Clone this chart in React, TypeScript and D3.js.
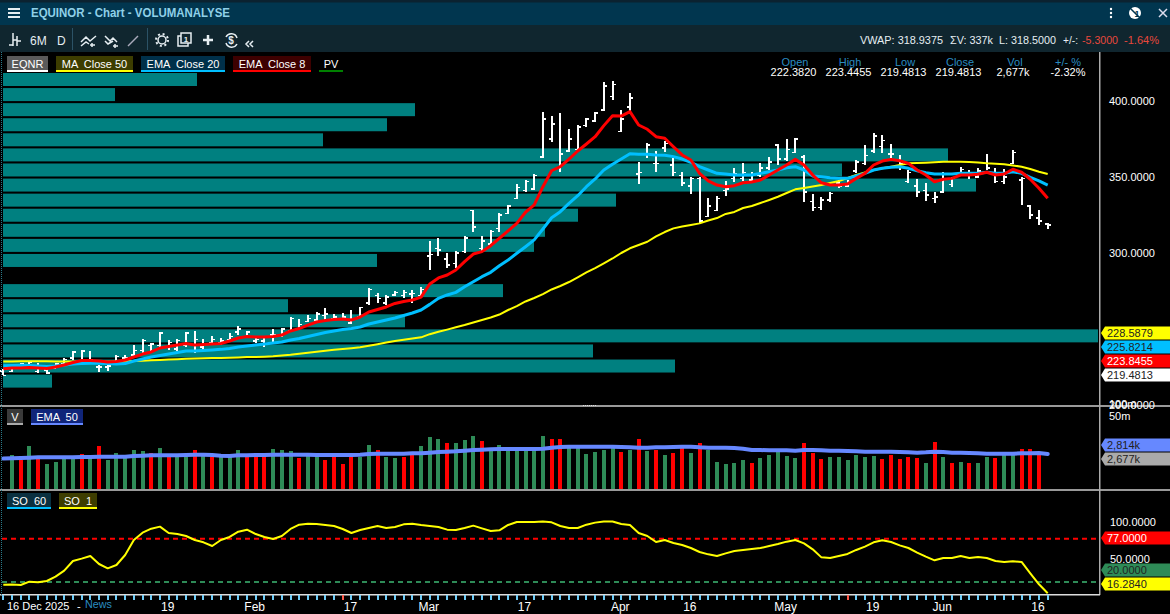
import React from "react";
import * as d3 from "d3";

const FONT = "'Liberation Sans', Arial, sans-serif";

const highs = [223.4,224.3,227.6,228.9,227.6,224.3,227.6,230.9,235.5,236.2,235.5,226.3,226.3,232.9,232.9,239.5,243.4,240.8,248,242.8,243.4,248,248.7,243.4,245.4,244.1,247.4,252,248.7,244.1,245.4,250,250.7,257.9,256.6,259.2,261.2,263.8,259.9,260.5,262.5,264.5,277,273.7,272.4,275,275.7,275.7,277.6,307.9,309.9,300,301.3,311.2,328.3,311.2,315.1,326.3,331.6,345.4,348,352,392.8,390.1,392.1,381.6,384.2,388.8,392.8,412.5,413.2,394.1,405.3,359.9,372.4,367.1,373.7,362.5,353.3,350,350,336.2,337.5,347.4,355.9,359.2,353.3,359.2,363.2,371.7,375,375.7,364.5,338.8,336.8,340.1,348,348,361.2,371.1,378.9,377.6,371.7,364.5,354.6,348.7,346.1,340.1,353.3,350,356.6,354.6,355.9,365.1,355.9,355.3,367.8,350,331.6,328.3,319.7];
const lows = [219.5,221.7,225,225.6,221,220.4,224.3,226.3,229.6,227.6,228.3,221.7,222.4,227.6,228.3,231.6,234.2,234.9,238.2,236.2,235.5,238.2,234.2,236.2,239.5,239.5,241.4,246,244.1,240.8,238.2,240.8,244.7,248,249.3,254.6,254.6,255.9,255.9,255.9,253.3,257.2,265.8,267.1,265.8,271.7,270.4,267.1,271,288.8,298,290.1,290.1,300,313.8,301.3,304.6,313.8,325.7,335.5,340.1,341.4,362.5,373,353.3,366.4,367.1,382.9,386.2,393.4,400.7,379.6,392.8,345.4,362.5,353.3,366.4,350.7,344.1,338.8,319.7,323.7,327.6,337.5,346.7,347.4,346.1,350,354.6,357.9,360.5,365.8,333.6,327.6,328.3,333.6,342.8,343.4,352.6,357.9,365.8,365.8,362.5,354.6,346.1,336.8,334.2,332.9,339.5,343.4,351.3,348.7,349.3,354.6,346.1,345.4,358.6,331.6,322.4,318.4,315.8];
const opens = [222.4,222,225.5,226,222,223,224.5,227,231,229,229,225,225,228,231,233,236,239,239,238,237,239,236,238,241,241,243,248,245,242,242,246,246,249,250,255,256,259,257,256.5,254,258,267,272,267,272.5,272,273,272,298,303,296,293,301,328,303,306,316,326,336,341,342,363,375,356,367,368,384,387,394,403,380,396,352,365,359,369,358,351,344,349,324,328,341,349,349,348,351,356,371,362,366,363,334,330,335,346,344,354,359,367,370,365,357,347,344,341,336,340,345,352,351,350,359,353,347,359,348,331,323,319];
const closes = [219.5,224,227,228,226,221,227,230,235,235.5,230,225,225.5,232,231,236,242.5,240,247.5,241,242.5,247.5,243,240,243,242,245,250,248,243,240,246,250,257,253,257,260,260,258,258,257,264,276,270,271,274,274,273.5,276,299,302,292,300,310,317,308,314,325,331,343,347,351,388,385,365,375,383,388,392,410,411,388,402,353,371,359,372,353,346,349,321,331,336,342,352,353,351,356,360,362,368,375,340,330,335,339,344,347,360,364,377,374,365,359,353,340,338,337,352,349,355,353,354,356,347,350,366,349,325,321,318.5];

const ema8 = [223.8,224.3,224.3,224.7,224.3,224,225,226.3,228,229.3,229.3,228.9,228.3,228.6,229.6,231.6,233.5,234.9,237.5,238.5,239.5,240.5,239.5,239.8,240.1,240.5,242.1,244.1,245.1,244.7,244.7,245.1,246,248.7,250.3,252.6,254.6,255.6,256.2,256.6,255.9,257.9,261.2,262.8,264.5,266.8,268.1,269.1,271,279.6,283.6,285.5,288.8,294.3,299.3,300.9,304.8,309.7,314.5,319.5,326.8,331.6,343.6,354.1,356.8,361.8,367.1,371.7,376.5,383.8,390.3,390.1,393,384.2,381.4,376.5,375.5,369.9,364.5,361.2,352.4,347.4,344.7,343.6,344.3,346.2,346.7,348,351.3,354.6,357.9,361.6,357.9,351.3,346.2,344.7,344.7,345.4,349.1,352.4,357.9,360.5,361.6,360.7,359,354.6,351.3,346.9,348.5,349.1,351.3,351.3,351.8,353.1,351.3,352,355.1,353.1,348.5,342.6,336];
const ema20 = [225.8,226,226.1,226,225.7,225.3,225.7,226.3,227,227.3,227.4,227.4,227.3,227,227.3,228.9,230.3,231.6,232.6,233.5,234.5,235.5,235.5,235.8,236.2,236.6,237.2,238.2,238.8,239.5,240.1,240.8,241.4,242.8,243.7,245.1,246.4,247.7,248.7,249.7,250.3,251.3,253.3,254.6,255.9,257.2,258.9,260.5,262.5,266.2,270.2,272.4,274.1,277.8,281.1,284.4,287.3,291.6,295.4,299.8,304.1,308.6,315.8,323.2,327.2,332.7,337.7,343.6,348.7,354.6,358.4,361.8,365.3,364.9,364.9,364.5,364.3,363.4,361.8,359.7,356.8,354.6,352.4,352,351.3,351.3,351.3,352.4,353.5,354.6,356.1,356.8,354.6,350.7,350.2,349.5,349.1,349.1,350.7,352.4,354.6,355.7,356.4,356.8,355.7,354.1,352.8,352,352,352,352.4,352.4,352.4,353.1,352.4,352.4,353.5,352.4,349.8,347.4,344.7];
const ma50 = [228.6,228.7,228.8,228.8,228.8,228.8,228.7,228.7,228.6,228.5,228.5,228.5,228.5,228.6,228.7,228.9,229.1,229.4,229.6,229.9,230.1,230.4,230.6,230.7,230.9,231,231.1,231.3,231.5,231.6,231.8,232,232.5,233,233.7,234.4,235,235.7,236.3,236.9,237.4,238,239,240,241.1,242.1,242.9,243.7,244.5,246.6,248.2,249.6,251.1,252.6,254.3,255.9,257.6,259.5,262.5,265.1,268.1,270.4,273,276,278.3,280.9,284,287.2,290.1,293.2,296.4,300,303.1,305.3,307.4,310.9,313.8,316.2,317.4,318.4,319.5,321.4,323,325.7,327,329.6,330.9,332.9,334.9,337,339.5,341.9,342.8,343.7,344.7,346.1,347.4,349.3,351.3,353,354.6,355.7,356.8,357.9,359,359.2,359.4,359.7,360.1,360.1,360,359.9,359.6,359,358.7,358.4,357.6,356.8,355.3,353.5,352];

const volumes = [0,2730,2340,3432,2470,2028,2184,2470,2470,2808,2730,3432,2340,2886,2600,3120,3042,2886,3276,2600,2600,2600,3120,2730,2600,2600,2600,3120,2600,2600,2730,3198,3120,3042,2496,2652,2652,2340,2574,2028,2600,2600,3510,3120,2574,2496,2574,2730,3432,4134,3978,3666,3666,3900,4212,3822,3120,3510,3120,3120,3120,3120,4212,3978,3978,3250,3250,2808,2964,3120,3250,2964,3120,3978,3042,3120,2730,2886,3250,2886,3666,3120,2184,2028,2106,2340,2106,2496,2730,2990,2652,2496,3666,2886,2418,2574,2574,2340,2730,2574,2652,2418,2730,2418,2574,2496,2106,3744,2574,2106,2184,2106,2106,2574,2496,2730,2730,3198,3198,2730,60];
const volumeSides = "GGRGRGGGGRGRGGGGGRGRGGRGRGGGRRRGGGRGGRRRRGGRGGRRGGGRGGGRGGGGGGGRRGGGGGGRGRGRGRRGRGGGGGRGGGGGRRRGGGGGGRRRRRGRGRGRGGRGGRRRR".split("");
const volumeEma = [2450,2470,2496,2522,2548,2548,2548,2548,2548,2574,2574,2600,2600,2600,2600,2652,2678,2704,2704,2704,2704,2730,2756,2756,2730,2678,2652,2704,2704,2730,2730,2756,2756,2756,2756,2756,2730,2730,2730,2730,2730,2756,2808,2834,2834,2834,2834,2860,2860,2912,2964,2990,3016,3068,3120,3146,3172,3198,3198,3198,3198,3198,3224,3302,3354,3380,3380,3380,3380,3380,3380,3354,3328,3302,3302,3328,3328,3354,3380,3380,3328,3302,3302,3302,3276,3224,3120,3120,3094,3094,3094,3068,3120,3120,3094,3068,3068,3042,3016,2990,2990,2990,2990,2964,2938,2912,2938,2990,2964,2912,2912,2886,2860,2834,2834,2834,2834,2860,2860,2886,2814];

const so1 = [16.3,16.5,15.9,20.3,19.4,21.2,26.9,34.9,47.7,50.8,54.3,43.7,38,42.4,55.6,75.5,85.2,90.5,93.2,84.8,83.4,80.8,75.5,72.4,67.5,75.5,79.5,86.5,89.2,83.4,79.5,76.8,80.8,90.1,95.8,97.1,96.7,95.4,94,90.1,84.8,88.7,91.4,94,91.4,92.7,96.2,97.1,95.4,94,92.7,89.2,88.7,91.4,94.5,90.9,87.4,88.3,95.4,99.3,99.3,99.3,100,98.9,94,91.4,91.4,95.8,98.5,100,100,96.7,95.4,84.8,80.8,72.8,75.5,71.5,68.9,64.9,59.6,56.5,54.3,57.8,60.9,62.3,63.6,64.9,67.5,70.2,73.3,75.5,71.1,63.1,52.5,51.7,54.3,57,62.3,66.7,72.4,75.1,72.8,68.4,64.9,58.7,53.4,48.6,51.7,51.7,54.3,51.7,53,51.7,47.7,46.4,47.2,46.4,31.3,16.8,4.9];

const profileVolumes = [194,112,412,384,320,945,839,973,613,575,542,531,374,0,500,285,402,1095,590,672,49];

const priceTicks = [400, 350, 300, 200];
const soTicks = [100, 50];
const soLevels = [{ value: 77, color: "#ff0000" }, { value: 20, color: "#2e8b57" }];
const redTickBars = [39, 97];
const dateLabels = [
  { bar: 19, text: "19" }, { bar: 29, text: "Feb" }, { bar: 40, text: "17" }, { bar: 49, text: "Mar" },
  { bar: 60, text: "17" }, { bar: 71, text: "Apr" }, { bar: 79, text: "16" }, { bar: 90, text: "May" },
  { bar: 100, text: "19" }, { bar: 108, text: "Jun" }, { bar: 119, text: "16" },
];
const ohlcHeads = ["Open", "High", "Low", "Close", "Vol", "+/- %"];
const ohlcValues = ["222.3820", "223.4455", "219.4813", "219.4813", "2,677k", "-2.32%"];
const headX = [795, 850, 905, 960, 1015, 1068];
const valueX = [793.5, 848.5, 903.5, 958.5, 1013, 1068];
const priceTags = [
  { text: "228.5879", bg: "#ffff00", fg: "#222" },
  { text: "225.8214", bg: "#00bfff", fg: "#222" },
  { text: "223.8455", bg: "#ff0000", fg: "#fff" },
  { text: "219.4813", bg: "#ffffff", fg: "#222" },
];
const toolbarStats = [
  { text: "VWAP: 318.9375", x: 860, w: 83, c: "#e6eef2" },
  { text: "ΣV: 337k", x: 950, w: 43, c: "#e6eef2" },
  { text: "L: 318.5000", x: 999, w: 57, c: "#e6eef2" },
  { text: "+/-:", x: 1063, w: 15, c: "#e6eef2" },
  { text: "-5.3000", x: 1082, w: 36, c: "#e8483c" },
  { text: "-1.64%", x: 1124, w: 35, c: "#e8483c" },
];

const barCount = highs.length;
const xBar = d3.scaleLinear().domain([0, 120]).range([3.3, 1047.7]);
const yPrice = d3.scaleLinear().domain([200, 400]).range([405, 101]);
const yVol = d3.scaleLinear().domain([0, 1000]).range([490, 477.18]);
const ySo = d3.scaleLinear().domain([0, 100]).range([597, 521.5]);
const xProfile = d3.scaleLinear().domain([0, 1095]).range([3, 1098]);
const yProfile = d3.scaleLinear().domain([0, 20]).range([73, 374.6]);

const lineOf = (vals: number[], y: (v: number) => number) =>
  d3.line<number>().x((_, i) => xBar(i)).y((v) => y(v)).curve(d3.curveLinear)(vals) || "";

function Tag({ y, text, bg, fg }: { y: number; text: string; bg: string; fg: string }) {
  const pts = [[1101, y], [1105, y - 6.5], [1170, y - 6.5], [1170, y + 6.5], [1105, y + 6.5]].map((p) => p.join(",")).join(" ");
  return (
    <g>
      <polygon points={pts} fill={bg} />
      <text x={1107} y={y + 4} fontSize={11} fill={fg}>{text}</text>
    </g>
  );
}

function Chip({ x, w, y, label, bg, line }: { x: number; w: number; y: number; label: string; bg: string; line: string }) {
  return (
    <g>
      <rect x={x} y={y} width={w} height={14} fill={bg} />
      <rect x={x} y={y + 14} width={w} height={2} fill={line} />
      <text x={x + w / 2} y={y + 12} fontSize={11} fill="#fff" textAnchor="middle" xmlSpace="preserve">{label}</text>
    </g>
  );
}

export default function App() {
  return (
    <svg width={1170} height={614} viewBox="0 0 1170 614"
      style={{ position: "fixed", left: 0, top: 0, background: "#000", fontFamily: FONT, display: "block" }}>
      {/* title bar and toolbar */}
      <rect x={0} y={0} width={1170} height={26} fill="#01364f" />
      <rect x={0} y={25} width={1170} height={27} fill="#10262f" />
      <rect x={0} y={0} width={1170} height={2.5} fill="#0b2230" />
      <g fill="#e6eef2">
        <rect x={8} y={8} width={12} height={2} /><rect x={8} y={12} width={12} height={2} /><rect x={8} y={16} width={12} height={2} />
      </g>
      <text x={31} y={17} fontSize={12.5} fontWeight="bold" fill="#8fd0e8" textLength={199} lengthAdjust="spacingAndGlyphs">EQUINOR - Chart - VOLUMANALYSE</text>
      {/* title bar right icons */}
      <g fill="#fff">
        <circle cx={1111} cy={9} r={1.2} /><circle cx={1111} cy={13} r={1.2} /><circle cx={1111} cy={17} r={1.2} />
        <circle cx={1135} cy={13} r={6} />
      </g>
      <text x={1137} y={17} fontSize={9} fontWeight="bold" fill="#01364f" textAnchor="middle">1</text>
      <path d="M1129 7 L1141 19" stroke="#01364f" strokeWidth={1.5} />
      <path d="M1159 9 L1167 17 M1167 9 L1159 17" stroke="#dde" strokeWidth={1.5} />
      {/* toolbar icons */}
      <g stroke="#e6eef2" strokeWidth={1.5} fill="none">
        <path d="M13 33 V46 M13 45 H9 M17 36 V46 M17 40 H13 M17 41 H21" />
        <path d="M81 42 L86 37 L90 41 L96 36 M81 46 L86 42 L89 44 M92 43 V47 M90 45 H95" />
        <path d="M105 36 L110 41 L113 38 L117 42 M105 41 L108 44 L113 41 M115 44 V48 M113 46 H118" />
        <path d="M128 46 L138 36" stroke="#aab" />
        <circle cx={162} cy={40} r={4} />
        <circle cx={162} cy={40} r={6} strokeDasharray="2 2.7" strokeWidth={2} />
        <rect x={178} y={36} width={10} height={10} />
        <rect x={181} y={33} width={10} height={10} fill="#10262f" />
        <path d="M208 35 V45 M203 40 H213" strokeWidth={2.5} />
        <path d="M226 37 A6 6 0 0 1 237 38 M237 44 A6 6 0 0 1 226 43" />
        <path d="M249 41 L246 44 L249 47 M253 41 L250 44 L253 47" />
      </g>
      <text x={186} y={42} fontSize={8} fill="#e6eef2" fontWeight="bold" textAnchor="middle">1</text>
      <text x={231} y={44} fontSize={10} fill="#e6eef2" fontWeight="bold" textAnchor="middle">$</text>
      <rect x={72} y={28} width={1} height={22} fill="#2c5266" />
      <rect x={147} y={28} width={1} height={22} fill="#2c5266" />
      <text x={30} y={45} fontSize={12} fill="#e6eef2">6M</text>
      <text x={57} y={45} fontSize={12} fill="#e6eef2">D</text>
      {toolbarStats.map((s) => (
        <text key={s.text} x={s.x} y={44} fontSize={11} fill={s.c} textLength={s.w} lengthAdjust="spacingAndGlyphs">{s.text}</text>
      ))}

      {/* volume profile */}
      <g fill="#008080">
        {profileVolumes.map((v, i) => v > 0 && (
          <rect key={i} x={xProfile(0)} y={yProfile(i)} width={xProfile(v) - xProfile(0)} height={13} />
        ))}
      </g>

      {/* OHLC */}
      <g stroke="#fff" fill="none" shapeRendering="crispEdges">
        {highs.map((h, i) => {
          const x = Math.round(xBar(i));
          return (
            <g key={i}>
              <line x1={x} x2={x} y1={yPrice(h)} y2={yPrice(lows[i])} strokeWidth={2} />
              <line x1={x - 3} x2={x} y1={yPrice(opens[i])} y2={yPrice(opens[i])} strokeWidth={1.5} />
              <line x1={x} x2={x + 3} y1={yPrice(closes[i])} y2={yPrice(closes[i])} strokeWidth={1.5} />
            </g>
          );
        })}
      </g>
      <path d={lineOf(ma50, yPrice)} fill="none" stroke="#ffff00" strokeWidth={2} strokeLinejoin="round" />
      <path d={lineOf(ema20, yPrice)} fill="none" stroke="#00bfff" strokeWidth={3} strokeLinejoin="round" />
      <path d={lineOf(ema8, yPrice)} fill="none" stroke="#ff0000" strokeWidth={3} strokeLinejoin="round" />

      {/* legends */}
      <Chip x={7} w={41} y={56} label="EQNR" bg="#5a5a5a" line="#ffffff" />
      <Chip x={56} w={77} y={56} label="MA  Close 50" bg="#3d3d00" line="#ffff00" />
      <Chip x={141} w={84} y={56} label="EMA  Close 20" bg="#00304a" line="#00bfff" />
      <Chip x={233} w={78} y={56} label="EMA  Close 8" bg="#3d0000" line="#ff0000" />
      <Chip x={319} w={24} y={56} label="PV" bg="#000" line="#008000" />

      {/* OHLC read-out */}
      {ohlcHeads.map((t, i) => (
        <g key={t} textAnchor="middle" fontSize={11}>
          <text x={headX[i]} y={65.5} fill="#2a8cc0">{t}</text>
          <text x={valueX[i]} y={75.5} fill="#fff">{ohlcValues[i]}</text>
        </g>
      ))}

      {/* volume panel */}
      <g shapeRendering="crispEdges">
        {volumes.map((v, i) => (
          <rect key={i} x={Math.round(xBar(i)) - 2} y={yVol(v)} width={4} height={490 - yVol(v)}
            fill={volumeSides[i] === "G" ? "#2e8b57" : "#ff0000"} />
        ))}
      </g>
      <path d={lineOf(volumeEma, yVol)} fill="none" stroke="#6688ff" strokeWidth={4} strokeLinejoin="round" strokeLinecap="round" />
      <Chip x={7} w={16} y={409} label="V" bg="#3a3a3a" line="#aaaaaa" />
      <Chip x={31} w={52} y={409} label="EMA  50" bg="#10257a" line="#6688ff" />

      {/* stochastic panel */}
      {soLevels.map((l) => (
        <line key={l.value} x1={2} x2={1098} y1={ySo(l.value)} y2={ySo(l.value)} stroke={l.color} strokeWidth={2} strokeDasharray="5 4" />
      ))}
      <path d={lineOf(so1, ySo)} fill="none" stroke="#ffff00" strokeWidth={2} strokeLinejoin="round" />
      <Chip x={7} w={44} y={493} label="SO  60" bg="#0a3040" line="#00bfff" />
      <Chip x={59} w={38} y={493} label="SO  1" bg="#3d3d00" line="#ffff00" />

      {/* frame */}
      <rect x={0} y={405} width={1170} height={2} fill="#999" />
      <rect x={0} y={489} width={1170} height={2} fill="#999" />
      <line x1={583} x2={596} y1={405.5} y2={405.5} stroke="#ddd" strokeDasharray="1 1" />
      <rect x={1099} y={52} width={1.5} height={543} fill="#aaa" />
      <rect x={0} y={594} width={1100} height={1.5} fill="#ddd" />
      <line x1={1.5} x2={1.5} y1={52} y2={596} stroke="#2a7a8a" strokeWidth={1} strokeDasharray="1 1" />

      {/* date axis */}
      <g shapeRendering="crispEdges">
        {d3.range(barCount).map((i) => (
          <rect key={i} x={Math.round(xBar(i)) - 1} y={595} width={1.5} height={5}
            fill={redTickBars.includes(i) ? "#ff5a4a" : "#6fcdf8"} />
        ))}
      </g>
      <text x={7} y={610} fontSize={11} fill="#fff">16 Dec 2025</text>
      <text x={77} y={610} fontSize={11} fill="#fff">-</text>
      <text x={85} y={608} fontSize={11} fill="#2a8cc0" textLength={27} lengthAdjust="spacingAndGlyphs">News</text>
      {dateLabels.map((d) => (
        <text key={d.bar} x={xBar(d.bar) - 1} y={611} fontSize={12} fill="#fff" textAnchor="middle">{d.text}</text>
      ))}

      {/* right axis */}
      {priceTicks.map((p) => (
        <text key={p} x={1109} y={yPrice(p) + 4} fontSize={11} fill="#fff">{p.toFixed(4)}</text>
      ))}
      <text x={1109} y={408} fontSize={11} fill="#fff">100m</text>
      <text x={1109} y={420} fontSize={11} fill="#fff">50m</text>
      {soTicks.map((p) => (
        <text key={p} x={1110} y={ySo(p) + 4} fontSize={11} fill="#fff">{p.toFixed(4)}</text>
      ))}
      {priceTags.map((t, i) => <Tag key={t.text} y={333 + i * 14} text={t.text} bg={t.bg} fg={t.fg} />)}
      <Tag y={445} text="2,814k" bg="#6688ff" fg="#222" />
      <Tag y={459} text="2,677k" bg="#aaaaaa" fg="#222" />
      <Tag y={538} text="77.0000" bg="#ff0000" fg="#fff" />
      <Tag y={570} text="20.0000" bg="#2e8b57" fg="#222" />
      <Tag y={584} text="16.2840" bg="#ffff00" fg="#222" />
    </svg>
  );
}
